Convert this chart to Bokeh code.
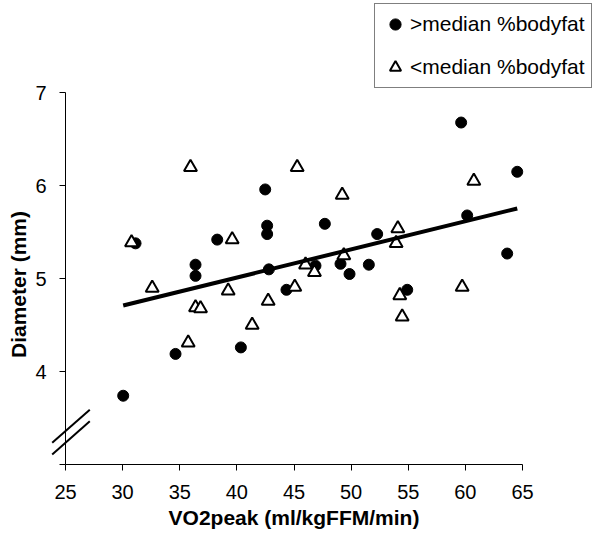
import numpy as np
from math import pi
from bokeh.plotting import figure
from bokeh.models import Range1d, FixedTicker, Legend, LegendItem, Label
from bokeh.embed import file_html
from bokeh.resources import INLINE

# ---- data ----
above_x = [42.48, 42.65, 42.65, 31.13, 38.28, 36.38, 36.38, 42.80, 44.34, 34.63, 40.35, 30.05,
           59.63, 64.54, 47.70, 60.16, 52.28, 63.66, 46.88, 49.07, 49.86, 51.55, 54.91]
above_y = [5.96, 5.57, 5.48, 5.38, 5.42, 5.15, 5.03, 5.10, 4.88, 4.19, 4.26, 3.74,
           6.68, 6.15, 5.59, 5.68, 5.48, 5.27, 5.14, 5.16, 5.05, 5.15, 4.88]
below_x = [35.94, 45.28, 30.78, 39.59, 32.59, 39.24, 45.07, 36.38, 36.82, 42.74, 41.34, 35.74,
           60.74, 49.22, 54.09, 53.94, 49.36, 46.01, 46.79, 54.26, 54.47, 59.72]
below_y = [6.20, 6.20, 5.39, 5.42, 4.90, 4.87, 4.91, 4.69, 4.68, 4.76, 4.50, 4.31,
           6.05, 5.90, 5.54, 5.38, 5.25, 5.15, 5.07, 4.82, 4.59, 4.91]
trend_slope = 0.0303
trend_intercept = 3.80
x_ticks = [25, 30, 35, 40, 45, 50, 55, 60, 65]
y_ticks = [3, 4, 5, 6, 7]
x_bounds = (25, 65)
y_bounds = (3, 7)
labels = [">median %bodyfat", "<median %bodyfat"]
x_title = "VO2peak (ml/kgFFM/min)"
y_title = "Diameter (mm)"

FONT = "Liberation Sans"

# ---- layout (pixels) ----
W, H = 597, 552
PX_X0, PX_X1 = 65.0, 522.0     # pixel column of x=25 and x=65
PX_Y0, PX_Y1 = 464.0, 92.3     # pixel row of y=3 and y=7 (from top)
ux = (x_bounds[1] - x_bounds[0]) / (PX_X1 - PX_X0)
uy = (y_bounds[1] - y_bounds[0]) / (PX_Y0 - PX_Y1)
x_range = Range1d(x_bounds[0] - PX_X0 * ux, x_bounds[0] + (W - PX_X0) * ux)
y_range = Range1d(y_bounds[0] - (H - PX_Y0) * uy, y_bounds[0] + PX_Y0 * uy)

def dx(px):
    return x_bounds[0] + (px - PX_X0) * ux

def dy(py):
    return y_bounds[0] + (PX_Y0 - py) * uy

p = figure(width=W, height=H, output_backend="svg", toolbar_location=None,
           x_range=x_range, y_range=y_range, min_border=0)
p.outline_line_color = None
p.grid.visible = False
p.background_fill_color = "white"
p.border_fill_color = "white"

for ax in (p.xaxis[0], p.yaxis[0]):
    ax.axis_line_color = "black"
    ax.major_tick_line_color = "black"
    ax.minor_tick_line_color = None
    ax.major_tick_out = 6
    ax.major_tick_in = 0
    ax.major_label_text_font = FONT
    ax.major_label_text_font_size = "20px"
    ax.major_label_text_color = "black"

p.xaxis.fixed_location = y_bounds[0]
p.yaxis.fixed_location = x_bounds[0]
p.xaxis.bounds = x_bounds
p.yaxis.bounds = y_bounds
p.xaxis.ticker = FixedTicker(ticks=x_ticks)
p.yaxis.ticker = FixedTicker(ticks=y_ticks)
p.yaxis.major_label_overrides = {3: ""}
p.xaxis.major_label_standoff = 14
p.yaxis.major_label_standoff = 13

p.xaxis.axis_label = x_title
p.xaxis.axis_label_text_font = FONT
p.xaxis.axis_label_text_font_size = "21px"
p.xaxis.axis_label_text_font_style = "bold"
p.xaxis.axis_label_text_color = "black"
p.xaxis.axis_label_standoff = 4

p.add_layout(Label(x=dx(18), y=dy(284), text=y_title, angle=pi / 2,
                   text_align="center", text_baseline="middle",
                   text_font=FONT, text_font_size="21px", text_font_style="bold",
                   text_color="black"))

# axis break marks on the y axis
p.segment(x0=[dx(51.7), dx(51.7)], y0=[dy(442.3), dy(454.0)],
          x1=[dx(89.3), dx(89.3)], y1=[dy(409.3), dy(420.7)],
          line_color="black", line_width=2)

r_above = p.scatter(above_x, above_y, marker="circle", size=11,
                    fill_color="black", line_color="black", line_width=1)
r_below = p.scatter(below_x, below_y, marker="triangle", size=13,
                    fill_color="white", line_color="black", line_width=2)

all_x = np.array(above_x + below_x)
fx = np.array([all_x.min(), all_x.max()])
p.line(fx, trend_intercept + trend_slope * fx, line_color="black", line_width=4)

legend = Legend(items=[LegendItem(label=labels[0], renderers=[r_above]),
                       LegendItem(label=labels[1], renderers=[r_below])],
                location=(374, H - 88), orientation="vertical")
legend.glyph_width = 28
legend.glyph_height = 28
legend.padding = 6
legend.spacing = 15
legend.label_standoff = 1
legend.margin = 0
legend.label_text_font = FONT
legend.label_text_font_size = "21px"
legend.label_text_color = "black"
legend.border_line_color = "black"
legend.border_line_width = 1
legend.background_fill_color = "white"
legend.background_fill_alpha = 1
p.add_layout(legend, "center")

open("out.html", "w").write(file_html(p, INLINE))
